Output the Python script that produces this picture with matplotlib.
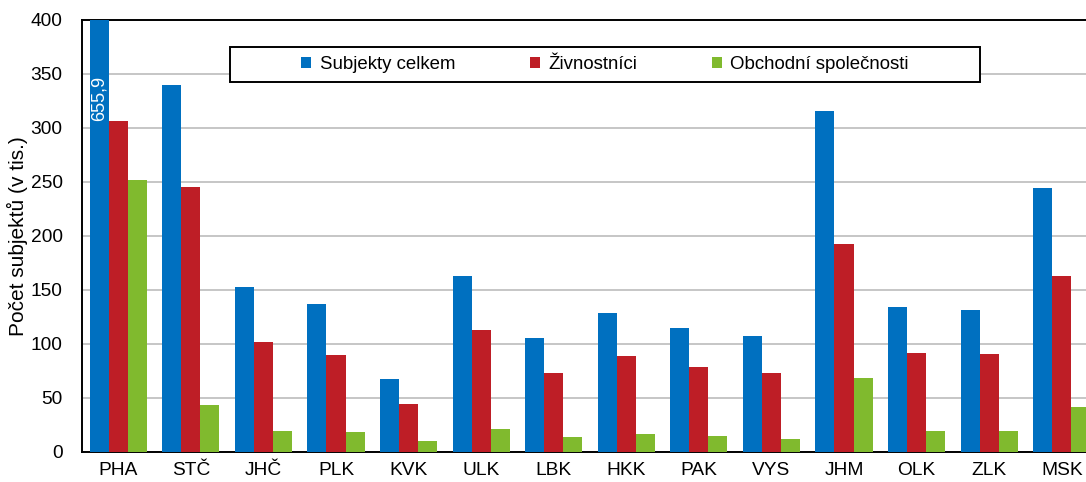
import matplotlib.pyplot as plt
import numpy as np
from matplotlib.patches import Rectangle

plt.rcParams["font.family"] = ["Liberation Sans", "DejaVu Sans"]

regions = ["PHA", "STČ", "JHČ", "PLK", "KVK", "ULK", "LBK", "HKK", "PAK", "VYS",
           "JHM", "OLK", "ZLK", "MSK"]
subjekty = [655.9, 339.5, 152.8, 137.0, 67.6, 163.0, 105.6, 128.7, 114.8, 107.4,
            315.7, 134.3, 131.5, 244.4]
zivnostnici = [306.5, 245.0, 101.9, 89.8, 44.4, 113.0, 73.1, 88.9, 78.7, 73.1,
               192.6, 91.7, 90.7, 163.0]
spolecnosti = [251.9, 43.5, 19.4, 18.5, 10.2, 21.3, 13.9, 16.7, 14.8, 12.0,
               68.5, 19.4, 19.4, 41.7]

series = [
    ("Subjekty celkem", subjekty, "#0070C0"),
    ("Živnostníci", zivnostnici, "#BE1E26"),
    ("Obchodní společnosti", spolecnosti, "#80BA2E"),
]

fig = plt.figure(figsize=(10.86, 4.82), dpi=100)
ax = fig.add_axes([82 / 1086, 30 / 482, 1016 / 1086, 432 / 482])

x = np.arange(len(regions))
w = 0.262
for i, (name, vals, color) in enumerate(series):
    ax.bar(x + (i - 1) * w, vals, width=w, color=color, label=name, zorder=3)

ax.text(x[0] - w, 348, "655,9", rotation=90, ha="center", va="top",
        color="white", fontsize=13, zorder=4)

ax.set_xlim(-0.5, len(regions) - 0.5)
ax.set_ylim(0, 400)
ax.set_yticks(range(0, 401, 50))
ax.set_xticks(x)
ax.set_xticklabels(regions)
ax.tick_params(axis="both", length=0, labelsize=13.8)
ax.tick_params(axis="y", pad=14)
ax.tick_params(axis="x", pad=7)
ax.yaxis.grid(True, color="#c6c6c6", linewidth=1.4, zorder=0)
ax.set_axisbelow(True)
for side in ["left", "bottom", "top"]:
    ax.spines[side].set_linewidth(1.4)
    ax.spines[side].set_color("black")
ax.spines["right"].set_visible(False)
ax.set_ylabel("Počet subjektů (v tis.)", fontsize=15, labelpad=2)

box = Rectangle((0.1457, 0.8565), 0.7382, 0.081, transform=ax.transAxes,
                facecolor="white", edgecolor="black", linewidth=1.4, zorder=5)
ax.add_patch(box)
leg = ax.legend(loc="center", bbox_to_anchor=(0.1457 + 0.7382 / 2, 0.8565 + 0.0405),
                ncol=3, frameon=False, fontsize=13.4, handlelength=0.55,
                handleheight=0.55, handletextpad=0.45, columnspacing=4.0)
leg.set_zorder(6)

fig.savefig("out.png", dpi=100)
